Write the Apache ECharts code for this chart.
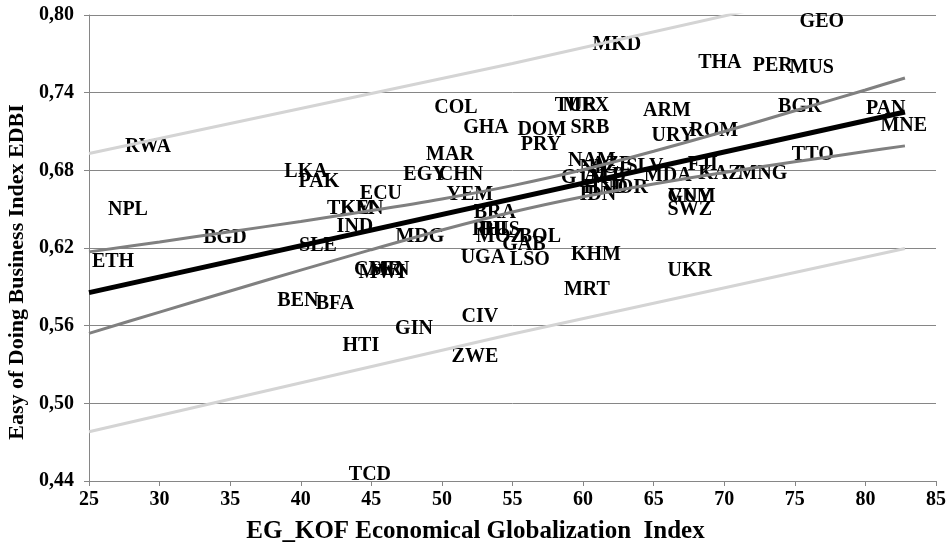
<!DOCTYPE html>
<html>
<head>
<meta charset="utf-8">
<script src="https://cdn.jsdelivr.net/npm/echarts@6/dist/echarts.min.js"></script>
<style>
html,body{margin:0;padding:0;background:#fff;}
#chart{width:952px;height:544px;}
</style>
</head>
<body>
<div id="chart"></div>
<script>
// Country codes (labels) and their positions
const countries = ["GEO","MKD","THA","PER","MUS","COL","TUR","MEX","ARM","BGR","PAN","MNE","RWA","GHA","DOM","SRB","PRY","URY","ROM","TTO","MAR","LKA","PAK","EGY","CHN","NAM","NPL","ECU","YEM","TKM","KEN","BGD","IND","MDG","BRA","SLE","ETH","PHL","RUS","MOZ","BOL","GAB","UGA","LSO","KHM","CMR","MWI","SEN","UKR","MRT","BEN","BFA","CIV","GIN","HTI","ZWE","TCD","NIC","AZE","SLV","GTM","ALB","MDA","FJI","KAZ","MNG","IDN","HND","JOR","GUY","VNM","SWZ"];
const kofValues = [76.91,62.39,69.69,73.44,76.20,50.99,59.49,60.20,65.94,75.35,81.44,82.72,29.18,53.12,57.08,60.48,57.01,66.36,69.26,76.27,50.57,40.37,41.29,48.80,51.35,60.62,27.76,45.68,51.98,43.56,44.33,34.63,43.84,48.44,53.75,41.22,26.70,53.61,54.11,54.11,56.94,55.81,52.90,56.23,60.91,45.47,45.75,46.32,67.56,60.27,39.80,42.42,52.69,48.02,44.26,52.34,44.90,61.05,62.04,64.38,60.13,61.54,66.00,68.48,69.69,72.73,61.05,61.61,63.17,67.56,67.70,67.56];
const edbiValues = [0.7946,0.7768,0.7629,0.7606,0.7591,0.7282,0.7297,0.7297,0.7258,0.7289,0.7274,0.7142,0.6980,0.7127,0.7112,0.7127,0.6996,0.7065,0.7104,0.6918,0.6918,0.6787,0.6710,0.6764,0.6764,0.6872,0.6494,0.6617,0.6609,0.6501,0.6501,0.6277,0.6362,0.6285,0.6470,0.6215,0.6092,0.6339,0.6339,0.6285,0.6285,0.6223,0.6123,0.6107,0.6146,0.6030,0.6007,0.6030,0.6022,0.5875,0.5790,0.5767,0.5667,0.5574,0.5443,0.5358,0.4446,0.6817,0.6841,0.6826,0.6741,0.6756,0.6756,0.6841,0.6772,0.6772,0.6609,0.6663,0.6663,0.6594,0.6594,0.6494];

// Regression line
const fitX = [25, 82.8];
const fitY = [0.5855, 0.7251];

// Confidence band (dark grey)
const bandX = [25,30,35,40,45,50,55,60,65,70,75,80,82.8];
const confUpper = [0.6170,0.6247,0.6326,0.6405,0.6489,0.6579,0.6682,0.6804,0.6947,0.7100,0.7260,0.7421,0.7513];
const confLower = [0.5540,0.5705,0.5868,0.6029,0.6187,0.6339,0.6478,0.6596,0.6695,0.6784,0.6866,0.6945,0.6989];

// Prediction band (light grey)
const predX = [25, 55, 82.8];
const predUpper = [0.6930, 0.7625, 0.8306];
const predLower = [0.4780, 0.5535, 0.6196];

// Axis ticks
const xTicks = {min: 25, max: 85, step: 5};
const yTicks = {min: 0.44, max: 0.80, step: 0.06};

const FONT = "'Liberation Serif','Times New Roman',serif";
const zip = (xs, ys) => xs.map((x, i) => [x, ys[i]]);

const chart = echarts.init(document.getElementById('chart'), null, {renderer: 'canvas'});
chart.setOption({
  animation: false,
  backgroundColor: '#ffffff',
  grid: {left: 89, right: 16, top: 15, bottom: 63, containLabel: false, outerBoundsMode: 'none'},
  xAxis: {
    type: 'value', min: xTicks.min, max: xTicks.max, interval: xTicks.step,
    name: 'EG_KOF Economical Globalization  Index',
    nameLocation: 'middle', nameGap: 38,
    nameTextStyle: {fontFamily: FONT, fontWeight: 'bold', fontSize: 25, color: '#000', padding: [0, 74, 0, 0]},
    axisLine: {show: true, onZero: false, lineStyle: {color: '#868686', width: 1}},
    axisTick: {show: true, inside: false, length: 5, lineStyle: {color: '#868686'}},
    axisLabel: {fontFamily: FONT, fontWeight: 'bold', fontSize: 20, color: '#000', margin: 9},
    splitLine: {show: false}
  },
  yAxis: {
    type: 'value', min: yTicks.min, max: yTicks.max, interval: yTicks.step,
    name: 'Easy of Doing Business Index EDBI',
    nameLocation: 'middle', nameGap: 56, nameRotate: 90,
    nameTextStyle: {fontFamily: FONT, fontWeight: 'bold', fontSize: 22, color: '#000', padding: [0, 48, 0, 0]},
    axisLine: {show: true, onZero: false, lineStyle: {color: '#868686', width: 1}},
    axisTick: {show: true, inside: false, length: 5, lineStyle: {color: '#868686'}},
    axisLabel: {fontFamily: FONT, fontWeight: 'bold', fontSize: 20, color: '#000', margin: 15,
      formatter: v => v.toFixed(2).replace('.', ',')},
    splitLine: {show: true, lineStyle: {color: '#868686', width: 1}}
  },
  series: [
    {
      type: 'scatter', z: 1,
      data: countries.map((c, i) => ({value: [kofValues[i], edbiValues[i]], name: c})),
      symbol: 'circle', symbolSize: 1, itemStyle: {color: '#ffffff', opacity: 1},
      label: {show: true, position: 'inside', formatter: p => p.name, opacity: 1,
        fontFamily: FONT, fontWeight: 'bold', fontSize: 20, color: '#000000', textBorderWidth: 0},
      emphasis: {disabled: true}
    },
    {type: 'line', z: 3, data: zip(predX, predUpper), symbol: 'none', clip: true,
     lineStyle: {color: '#d4d4d4', width: 3}},
    {type: 'line', z: 3, data: zip(predX, predLower), symbol: 'none', clip: true,
     lineStyle: {color: '#d4d4d4', width: 3}},
    {type: 'line', z: 4, data: zip(bandX, confUpper), symbol: 'none', smooth: 0.3,
     lineStyle: {color: '#808080', width: 3}},
    {type: 'line', z: 4, data: zip(bandX, confLower), symbol: 'none', smooth: 0.3,
     lineStyle: {color: '#808080', width: 3}},
    {type: 'line', z: 5, data: zip(fitX, fitY), symbol: 'none',
     lineStyle: {color: '#000', width: 5}}
  ]
});
</script>
</body>
</html>
